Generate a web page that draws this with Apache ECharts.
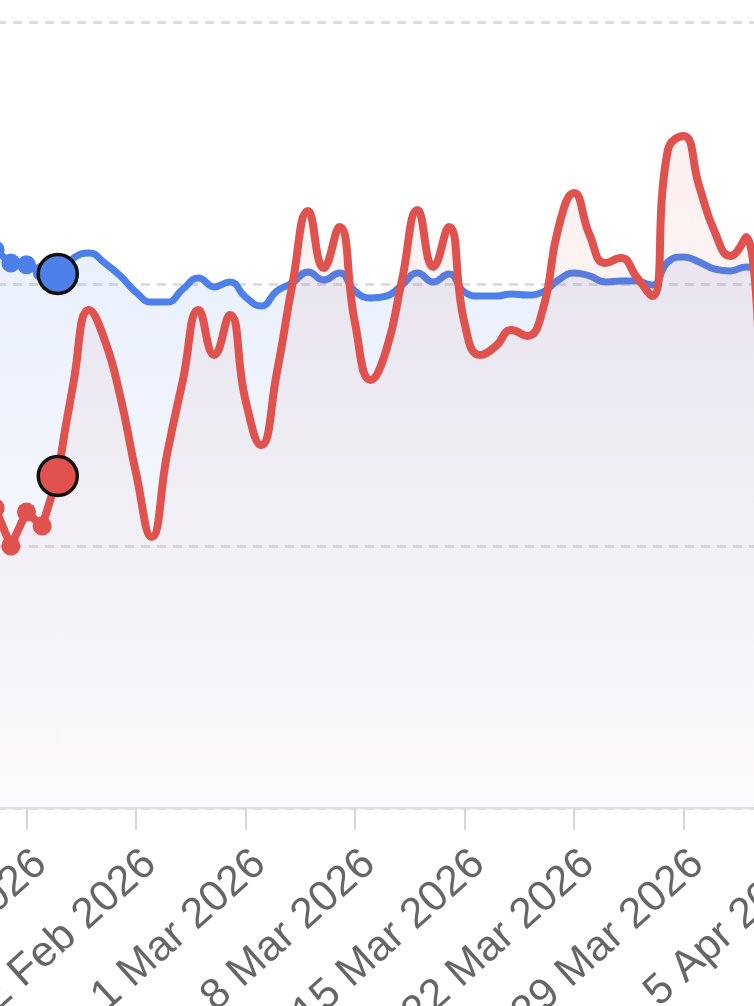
<!DOCTYPE html>
<html>
<head>
<meta charset="utf-8">
<script src="https://cdn.jsdelivr.net/npm/echarts@6/dist/echarts.min.js"></script>
<style>
html,body{margin:0;padding:0;background:#fff;}
#chart{width:754px;height:1006px;}
</style>
</head>
<body>
<div id="chart"></div>
<script>
// ---- data ----
const baseDate = '2026-02-15'; // first visible weekly tick
const actualDates = ['2026-02-12','2026-02-13','2026-02-14','2026-02-15','2026-02-16','2026-02-17'];
const actualBlue = [216.8, 213.0, 208.0, 207.3, 204.6, 203.8];
const actualRed  = [125.2, 114.5, 100.0, 113.0, 107.6, 126.7];

const forecastDates = [
 '2026-02-17','2026-02-18','2026-02-19','2026-02-20','2026-02-21','2026-02-22','2026-02-23','2026-02-24',
 '2026-02-25','2026-02-26','2026-02-27','2026-02-28','2026-03-01','2026-03-02','2026-03-03','2026-03-04',
 '2026-03-05','2026-03-06','2026-03-07','2026-03-08','2026-03-09','2026-03-10','2026-03-11','2026-03-12',
 '2026-03-13','2026-03-14','2026-03-15','2026-03-16','2026-03-17','2026-03-18','2026-03-19','2026-03-20',
 '2026-03-21','2026-03-22','2026-03-23','2026-03-24','2026-03-25','2026-03-26','2026-03-27','2026-03-28',
 '2026-03-29','2026-03-30','2026-03-31','2026-04-01','2026-04-02','2026-04-03'
];
const forecastBlue = [
 203.8, 209.9, 211.8, 208.0, 203.1, 196.9, 193.1, 193.1, 198.1, 202.3,
 198.9, 200.8, 195.0, 191.6, 197.3, 200.4, 204.6, 201.5, 204.2, 197.3,
 194.7, 195.4, 199.6, 204.2, 200.8, 203.8, 196.9, 195.4, 195.4, 196.2,
 195.8, 196.9, 201.5, 204.2, 203.1, 200.8, 201.1, 201.1, 199.6, 208.4,
 210.3, 208.4, 205.7, 205.0, 206.5, 204.6
];
const forecastRed = [
 126.7, 162.2, 190.1, 178.6, 156.9, 127.9, 103.4, 135.5, 163.4, 190.1,
 172.9, 188.2, 155.7, 138.5, 166.0, 200.0, 227.9, 206.1, 221.8, 185.1,
 163.4, 174.8, 201.5, 228.2, 206.5, 221.8, 185.1, 172.9, 176.3, 182.4,
 180.2, 190.1, 221.4, 234.7, 218.7, 208.0, 209.9, 202.7, 195.4, 251.1,
 256.5, 237.4, 219.8, 210.7, 217.9, 125.2
];
const yTicks = [0, 100, 200, 300];

// ---- helpers ----
const DAY = 86400000;
const base = Date.parse(baseDate + 'T00:00:00Z');
const dayNum = s => Math.round((Date.parse(s + 'T00:00:00Z') - base) / DAY);
const MONTHS = ['Jan','Feb','Mar','Apr','May','Jun','Jul','Aug','Sep','Oct','Nov','Dec'];
const fmt = d => { const t = new Date(base + d * DAY); return t.getUTCDate() + ' ' + MONTHS[t.getUTCMonth()] + ' ' + t.getUTCFullYear(); };
const pairs = (dates, vals) => dates.map((s, i) => [dayNum(s), vals[i]]);

const BLUE = '#4d80e8';
const RED = '#e0524d';
const grad = (r, g, b, a0, a1) => ({
  type: 'linear', x: 0, y: 22, x2: 0, y2: 808, global: true,
  colorStops: [{offset: 0, color: `rgba(${r},${g},${b},${a0})`}, {offset: 1, color: `rgba(${r},${g},${b},${a1})`}]
});
const blueArea = grad(77, 128, 232, 0.23, 0.025);
const redArea = grad(224, 82, 77, 0.14, 0.02);

const chart = echarts.init(document.getElementById('chart'), null, {renderer: 'canvas'});
chart.setOption({
  animation: false,
  backgroundColor: '#ffffff',
  grid: {left: -83, right: -39, top: 22, bottom: 198, containLabel: false, outerBoundsMode: 'none'},
  xAxis: {
    type: 'value', min: -7, max: 49, interval: 7,
    axisLine: {show: true, lineStyle: {color: '#e2e2e2', width: 2}},
    axisTick: {show: true, length: 22, lineStyle: {color: '#d6d6d6', width: 2}},
    splitLine: {show: false},
    axisLabel: {
      rotate: 42, margin: 34, fontSize: 43, color: '#666666', verticalAlign: 'top',
      fontFamily: 'Liberation Sans, Arial, sans-serif',
      formatter: v => fmt(v)
    }
  },
  yAxis: {
    type: 'value', min: yTicks[0], max: yTicks[yTicks.length - 1], interval: 100,
    axisLine: {show: false}, axisTick: {show: false}, axisLabel: {show: false},
    splitLine: {show: true, lineStyle: {color: '#dedede', width: 3, type: [9, 7]}}
  },
  series: [
    {type: 'line', name: 'blue actual', data: pairs(actualDates, actualBlue), smooth: false,
     symbol: 'circle', symbolSize: 19, showSymbol: true, showAllSymbol: true,
     itemStyle: {color: BLUE, opacity: 1}, lineStyle: {color: BLUE, width: 7}, areaStyle: {color: blueArea}, z: 2, silent: true},
    {type: 'line', name: 'blue forecast', data: pairs(forecastDates, forecastBlue), smooth: true,
     showSymbol: false, lineStyle: {color: BLUE, width: 7}, itemStyle: {color: BLUE}, areaStyle: {color: blueArea}, z: 2, silent: true},
    {type: 'line', name: 'red actual', data: pairs(actualDates, actualRed), smooth: false,
     symbol: 'circle', symbolSize: 19, showSymbol: true, showAllSymbol: true,
     itemStyle: {color: RED, opacity: 1}, lineStyle: {color: RED, width: 8}, areaStyle: {color: redArea}, z: 3, silent: true},
    {type: 'line', name: 'red forecast', data: pairs(forecastDates, forecastRed), smooth: true,
     showSymbol: false, lineStyle: {color: RED, width: 8}, itemStyle: {color: RED}, areaStyle: {color: redArea}, z: 3, silent: true},
    {type: 'scatter', name: 'now', silent: true, z: 10, zlevel: 1,
     data: [
       {value: [dayNum(actualDates[actualDates.length - 1]), actualBlue[actualBlue.length - 1]], itemStyle: {color: BLUE}},
       {value: [dayNum(actualDates[actualDates.length - 1]), actualRed[actualRed.length - 1]], itemStyle: {color: RED}}
     ],
     symbolSize: 39, itemStyle: {borderColor: '#111', borderWidth: 3.5, opacity: 1}}
  ]
});
</script>
</body>
</html>
